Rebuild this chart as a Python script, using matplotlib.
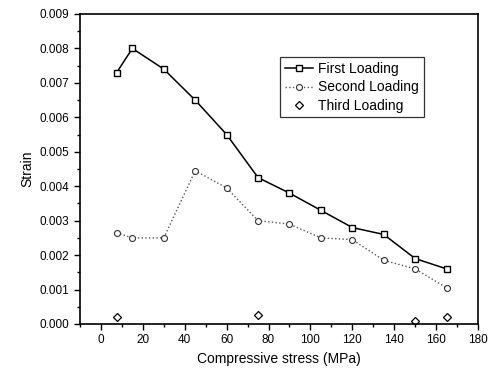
import matplotlib
matplotlib.use("Agg")
import matplotlib.pyplot as plt
from matplotlib.ticker import MultipleLocator

plt.rcParams['font.family'] = ['Liberation Sans', 'DejaVu Sans']

stress = [7.5, 15, 30, 45, 60, 75, 90, 105, 120, 135, 150, 165]
first = [0.0073, 0.0080, 0.0074, 0.0065, 0.0055, 0.00425, 0.0038, 0.0033, 0.0028, 0.0026, 0.0019, 0.0016]
second = [0.00265, 0.0025, 0.0025, 0.00445, 0.00395, 0.0030, 0.0029, 0.0025, 0.00245, 0.00185, 0.0016, 0.00105]
third_x = [7.5, 75, 150, 165]
third = [0.0002, 0.00025, 0.0001, 0.0002]

fig = plt.figure(figsize=(4.95, 3.71), dpi=100)
ax = fig.add_axes([80/495, 1-324/371, (478-80)/495, (324-14)/371])

ax.plot(stress, first, '-', color='black', lw=1.1, marker='s', ms=4.8,
        mfc='white', mec='black', mew=1.0, label='First Loading')
ax.plot(stress, second, ':', color='#555555', lw=1.0, marker='o', ms=4.3,
        mfc='white', mec='#333333', mew=0.8, label='Second Loading')
ax.plot(third_x, third, linestyle='none', marker='D', ms=4.3,
        mfc='white', mec='black', mew=0.9, label='Third Loading')

ax.set_xlim(-10, 180)
ax.set_ylim(0, 0.009)
ax.xaxis.set_major_locator(MultipleLocator(20))
ax.xaxis.set_minor_locator(MultipleLocator(10))
ax.yaxis.set_major_locator(MultipleLocator(0.001))
ax.yaxis.set_minor_locator(MultipleLocator(0.0005))
ax.yaxis.set_major_formatter(matplotlib.ticker.FormatStrFormatter('%.3f'))
ax.tick_params(axis='both', which='major', direction='out', length=4, width=1, labelsize=8.5)
ax.tick_params(axis='both', which='minor', direction='out', length=2.5, width=1)
ax.tick_params(top=False, right=False, which='both')
for s in ax.spines.values():
    s.set_linewidth(1.2)

ax.set_xlabel('Compressive stress (MPa)', fontsize=10)
ax.set_ylabel('Strain', fontsize=10)

leg = ax.legend(loc='upper left', bbox_to_anchor=(0.503, 0.86), fontsize=10,
                frameon=True, fancybox=False, edgecolor='black',
                handlelength=2.0, handletextpad=0.4, borderpad=0.35,
                labelspacing=0.3, borderaxespad=0)
leg.get_frame().set_linewidth(0.9)

fig.savefig('out.png', dpi=100)
